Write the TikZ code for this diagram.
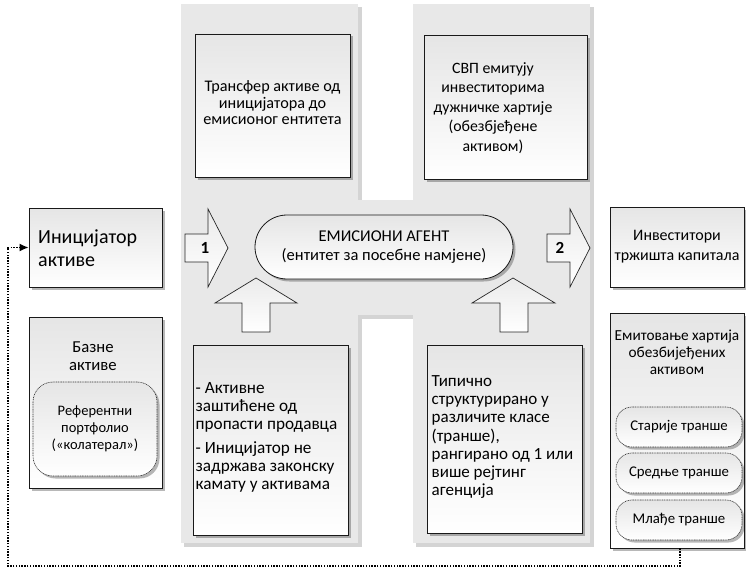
\documentclass[tikz,border=0pt]{standalone}
\usepackage{fontspec}
\setmainfont{Carlito}
\usetikzlibrary{shadows,arrows.meta}
\tikzset{
  fs/.style={font=\fontsize{14.67}{18}\selectfont},
  boxshade/.style={top color=black!10, bottom color=white},
  sh/.style={drop shadow={shadow xshift=2.5pt,shadow yshift=-2.5pt,fill=black,opacity=0.28}},
  box/.style={draw=black!90, line width=0.8pt, boxshade, sh, inner sep=0pt, fs},
  dotbox/.style={draw=black!80, line width=0.6pt, dash pattern=on 1pt off 0.7pt, boxshade, sh, inner sep=0pt},
  pill/.style={dotbox, rounded corners=16pt, minimum width=126pt, minimum height=40pt,
     font=\fontsize{14.8}{17}\selectfont},
  bigarrow/.style={draw=black!85, line width=0.7pt, top color=black!8, bottom color=white, line join=miter},
  panelsh/.style={fill=black!17},
  panel/.style={fill=black!9},
  dotconn/.style={line width=1.5pt, dash pattern=on 1.5pt off 1.3pt},
  numlbl/.style={font=\fontsize{17}{18}\selectfont\bfseries},
  ltxt/.style={anchor=west, align=left, inner sep=0pt},
}
\begin{document}
\begin{tikzpicture}[x=1pt,y=-1pt]
\useasboundingbox (0,0) rectangle (746,572);
% gray panels
\fill[panelsh] (184,7) rectangle (362,547);
\fill[panelsh] (416,7) rectangle (594,547);
\fill[panelsh] (361,203) rectangle (416,319);
\fill[panel] (181,4) rectangle (358,543);
\fill[panel] (413,4) rectangle (590,543);
\fill[panel] (358,200) rectangle (413,315);

% top boxes
\node[box, minimum width=155pt, minimum height=143pt] (tl) at (272.5,105.5) {};
\node[font=\fontsize{16.2}{16.5}\selectfont, align=center] (tltxt) at (272.5,103) {Трансфер активе од\\иницијатора до\\емисионог ентитета};
\node[box, minimum width=163pt, minimum height=144pt] (tr) at (505.5,107.5) {};
\node[font=\fontsize{15.8}{19.5}\selectfont, align=center] (trtxt) at (493,108) {СВП емитују\\инвеститорима\\дужничке хартије\\(обезбјеђене\\активом)};

% bottom boxes
\node[box, minimum width=155pt, minimum height=190pt] (bl) at (270.5,440) {};
\node[ltxt, font=\fontsize{17.2}{18}\selectfont] (bltxt) at (195.5,437.5)
 {- Активне\\заштићене од\\пропасти продавца\\[6pt]- Иницијатор не\\задржава законску\\камату у активама};
\node[box, minimum width=155pt, minimum height=188pt] (br) at (504.5,439) {};
\node[ltxt, font=\fontsize{17}{18.3}\selectfont] (brtxt) at (431.5,437)
 {Типично\\структурирано у\\различите класе\\(транше),\\рангирано од 1 или\\више рејтинг\\агенција};

% central agent
\node[box, rounded corners=32pt, minimum width=258pt, minimum height=64pt, align=center,
      font=\fontsize{16.5}{18.5}\selectfont] (agent) at (384,247)
 {ЕМИСИОНИ АГЕНТ\\(ентитет за посебне намјене)};

% big arrows
\draw[bigarrow] (185,234) -- (208,234) -- (208,209) -- (228,248) -- (208,287) -- (208,262) -- (185,262) -- cycle;
\node[numlbl] (n1) at (205,248) {1};
\draw[bigarrow] (547,234) -- (570,234) -- (570,209) -- (590,248) -- (570,287) -- (570,262) -- (547,262) -- cycle;
\node[numlbl] (n2) at (560,248) {2};
\draw[bigarrow] (242,332) -- (242,303) -- (215,303) -- (256,278) -- (297,303) -- (270,303) -- (270,332) -- cycle;
\draw[bigarrow] (500,332) -- (500,303) -- (472,303) -- (513,278) -- (555,303) -- (528,303) -- (528,332) -- cycle;

% left side
\node[box, minimum width=133pt, minimum height=79pt] (init) at (95.5,247.5) {};
\node[ltxt, font=\fontsize{20}{23}\selectfont] (inittxt) at (38,248.5) {Иницијатор\\активе};
\node[box, minimum width=133pt, minimum height=171pt] (base) at (95.5,402.5) {};
\node[font=\fontsize{16.7}{18}\selectfont, align=center] (basetxt) at (93,356) {Базне\\активе};
\node[dotbox, rounded corners=20pt, minimum width=124pt, minimum height=94pt, align=center,
      font=\fontsize{14.5}{17}\selectfont] (ref) at (95,429)
 {Референтни\\портфолио\\(«колатерал»)};

% right side
\node[box, minimum width=134pt, minimum height=80pt, align=center,
      font=\fontsize{16}{20}\selectfont] (inv) at (677,247) {Инвеститори\\тржишта капитала};
\node[box, minimum width=134pt, minimum height=235pt] (emit) at (677,430.5) {};
\node[font=\fontsize{15.3}{17}\selectfont, align=center] (emittxt) at (677,352) {Емитовање хартија\\обезбијеђених\\активом};
\node[pill] (p1) at (679,427) {Старије транше};
\node[pill] (p2) at (679,473) {Средње транше};
\node[pill] (p3) at (679,520) {Млађе транше};

% dotted feedback connector
\coordinate (loop) at (8,566);
\draw[dotconn, -{Latex[length=9pt,width=8pt]}] ([xshift=3pt]emit.south) |- (loop) |- (init.west);
\end{tikzpicture}
\end{document}
